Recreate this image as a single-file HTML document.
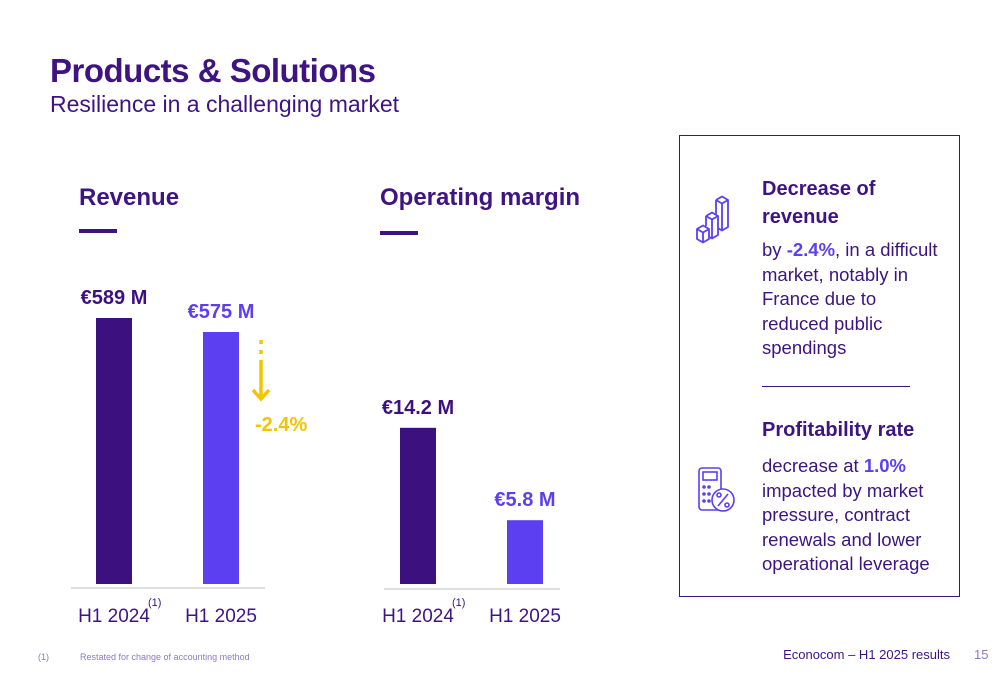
<!DOCTYPE html>
<html><head><meta charset="utf-8"><style>
body{margin:0;width:1000px;height:685px;background:#fff;font-family:"Liberation Sans",sans-serif;position:relative;overflow:hidden;color:#3d1a80}
.a{position:absolute;white-space:nowrap}
h1{position:absolute;left:50px;top:52px;margin:0;font-size:33px;font-weight:bold;color:#3d1482;letter-spacing:-0.5px}
.sub{left:50px;top:91px;font-size:23px;color:#3d1482}
.hd{font-size:24px;font-weight:bold;color:#3d1482}
.ul{position:absolute;height:4px;width:38px;background:#3d1482}
.pt{font-size:20px;font-weight:bold;line-height:28px;color:#3d1482}
.pb{font-size:18.5px;line-height:24.5px;color:#3d1482}
</style></head><body>
<h1>Products &amp; Solutions</h1>
<div class="a sub">Resilience in a challenging market</div>
<div class="a hd" style="left:79px;top:184px">Revenue</div>
<div class="ul" style="left:79px;top:229px"></div>
<div class="a hd" style="left:380px;top:184px">Operating margin</div>
<div class="ul" style="left:380px;top:231px"></div>
<svg id="chart" class="a" style="left:0;top:0" width="680" height="640"></svg>
<div class="a" style="left:679px;top:135px;width:279px;height:460px;border:1px solid #3d1482"></div>
<svg class="a" style="left:695px;top:192px" width="36" height="54" viewBox="0 0 36 54" fill="none" stroke="#5b3ff0" stroke-width="1.8" stroke-linejoin="round">
<path d="M2 37l6-3.5 6 3.5v10l-6 3.5-6-3.5z M2 37l6 3.5 6-3.5 M8 40.5v10"/>
<path d="M11 24l6-3.5 6 3.5v19l-6 3.5-3-1.7 M11 24l6 3.5 6-3.5 M17 27.5v19 M11 24v10"/>
<path d="M21 8l6-3.5 6 3.5v27l-6 3.5-4-2.3 M21 8l6 3.5 6-3.5 M27 11.5v27 M21 8v14"/>
</svg>
<svg class="a" style="left:697px;top:466px" width="40" height="48" viewBox="0 0 40 48" fill="none" stroke="#5b3ff0" stroke-width="1.6">
<rect x="2" y="2" width="22" height="42" rx="3"/><rect x="6" y="6" width="14" height="8"/>
<circle cx="7" cy="21" r="1" fill="#5b3ff0"/><circle cx="12" cy="21" r="1" fill="#5b3ff0"/><circle cx="7" cy="28" r="1" fill="#5b3ff0"/><circle cx="12" cy="28" r="1" fill="#5b3ff0"/><circle cx="7" cy="35" r="1" fill="#5b3ff0"/><circle cx="12" cy="35" r="1" fill="#5b3ff0"/>
<circle cx="26" cy="34" r="11" fill="#fff"/><path d="M21 40l10-12"/><circle cx="22" cy="29" r="2"/><circle cx="30" cy="39" r="2"/>
</svg>
<div class="a pt" style="left:762px;top:175px">Decrease of<br>revenue</div>
<div class="a pb" style="left:762px;top:238px">by <b style="color:#5b3ff0">-2.4%</b>, in a difficult<br>market, notably in<br>France due to<br>reduced public<br>spendings</div>
<div class="a" style="left:762px;top:386px;width:148px;height:1px;background:#3d1482"></div>
<div class="a pt" style="left:762px;top:416px">Profitability rate</div>
<div class="a pb" style="left:762px;top:454px">decrease at <b style="color:#5b3ff0">1.0%</b><br>impacted by market<br>pressure, contract<br>renewals and lower<br>operational leverage</div>
<div class="a" style="left:38px;top:652px;font-size:9px;color:#8a7bbf">(1)</div>
<div class="a" style="left:80px;top:652px;font-size:9px;color:#8a7bbf">Restated for change of accounting method</div>
<div class="a" style="right:50px;top:647px;font-size:13px;color:#3d1482">Econocom – H1 2025 results</div>
<div class="a" style="left:974px;top:647px;font-size:13px;color:#8a7bbf">15</div>
<script>
const categories=["H1 2024","H1 2025"];
const revenueValues=[589,575];
const revenueLabels=["€589 M","€575 M"];
const marginValues=[14.2,5.8];
const marginLabels=["€14.2 M","€5.8 M"];
const ns="http://www.w3.org/2000/svg";
const svg=document.getElementById("chart");
function mk(t,a,txt){const e=document.createElementNS(ns,t);for(const k in a)e.setAttribute(k,a[k]);if(txt!==undefined)e.textContent=txt;svg.appendChild(e);return e;}
const colors=["#3d1080","#5b3ff0"];
const base=584;
function yRev(v){return base-(v-323)*1.0;}
function yMar(v){return base-v*11.0;}
function drawChart(prefix,vals,labels,yf,x0,axisX1,axisX2,axisY){
  const ax=mk("line",{x1:axisX1,x2:axisX2,y1:axisY,y2:axisY,stroke:"#cccccc","stroke-width":1.2});
  
  
  vals.forEach((v,i)=>{
    const x=x0+i*107,top=yf(v);
    const r=mk("rect",{x:x,y:top,width:36,height:base-top,fill:colors[i]});
    
    
    const t=mk("text",{x:x+18,y:top-14,"text-anchor":"middle","font-size":20,"font-weight":"bold",fill:colors[i],"font-family":"Liberation Sans"},labels[i]);
    
    
    const c=mk("text",{x:x+18,y:622,"text-anchor":"middle","font-size":19,fill:"#3d1482","font-family":"Liberation Sans"},categories[i]);
    
    
    if(i===0){const s=mk("text",{x:x+52,y:606,"font-size":11,fill:"#3d1482","font-family":"Liberation Sans"},"(1)");
      
      }
  });
}
drawChart("revenue",revenueValues,revenueLabels,yRev,96,71,265,588);
drawChart("margin",marginValues,marginLabels,yMar,400,384,560,589);
const ar=mk("path",{d:"M261 340v4 M261 350v4 M261 360v36 M253 390l8 9 8-9",stroke:"#f2c500","stroke-width":3.5,fill:"none"});


const pc=mk("text",{x:255,y:431,"font-size":20,"font-weight":"bold",fill:"#f2c500","font-family":"Liberation Sans"},"-2.4%");


</script>
</body></html>
